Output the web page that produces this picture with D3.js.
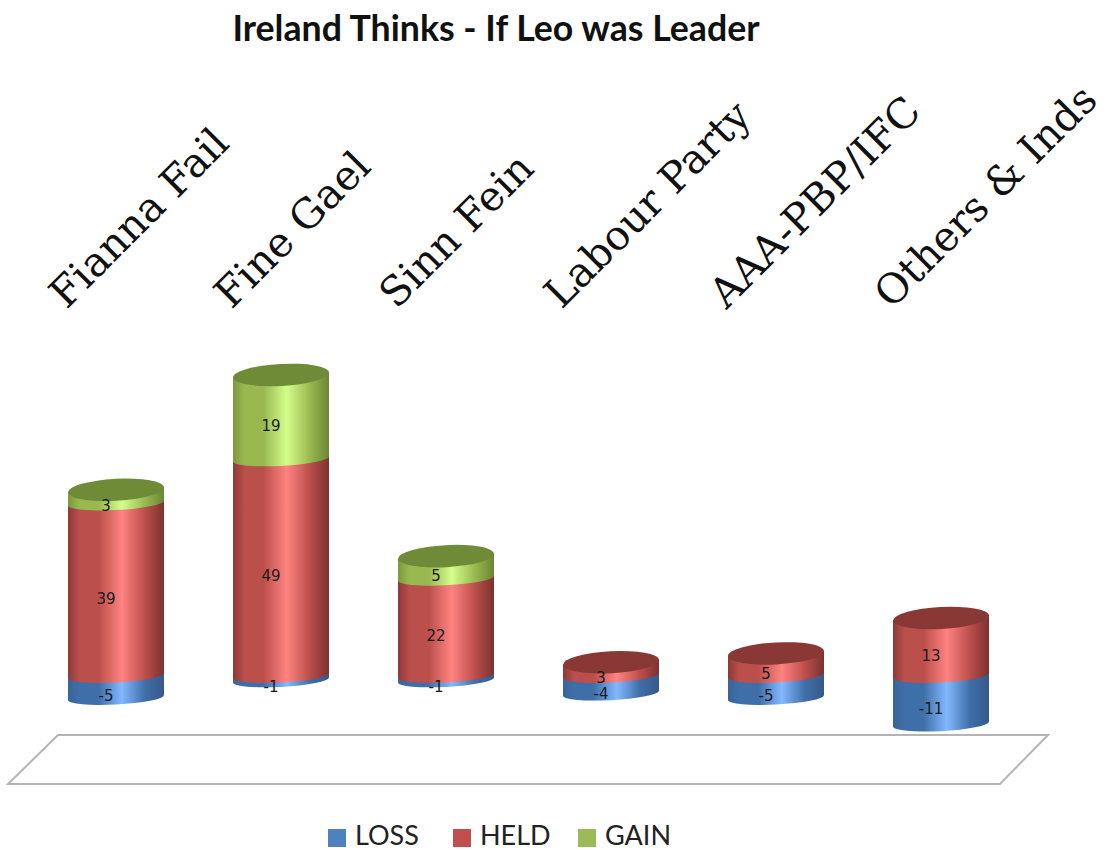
<!DOCTYPE html>
<html>
<head>
<meta charset="utf-8">
<script src="https://cdn.jsdelivr.net/npm/d3@7"></script>
<style>
  html, body { margin: 0; padding: 0; background: #fff; }
</style>
</head>
<body>
<div id="chart"></div>
<script>
var parties = ["Fianna Fail", "Fine Gael", "Sinn Fein", "Labour Party", "AAA-PBP/IFC", "Others & Inds"];
var seriesNames = ["LOSS", "HELD", "GAIN"];
var loss = [-5, -1, -1, -4, -5, -11];
var held = [39, 49, 22, 3, 5, 13];
var gain = [3, 19, 5, 0, 0, 0];

var svgWidth = 1107;
var svgHeight = 850;

var svg = d3.select("#chart")
  .append("svg")
  .attr("width", svgWidth)
  .attr("height", svgHeight)
  .style("display", "block");

var x = d3.scalePoint().domain(parties).range([116, 941]);
var y = d3.scaleLinear().domain([-15, 70]).range([741.8, 366.1]);

var colours = {
  LOSS: { edgeL: "#3a6499", mid: "#3f6fa8", hi: "#82b8ff", edgeR: "#37598a", cap: "#3a6499", key: "#4f81bd" },
  HELD: { edgeL: "#8c3a38", mid: "#bb4f4c", hi: "#ff8381", edgeR: "#7c3230", cap: "#8a3836", key: "#c0504d" },
  GAIN: { edgeL: "#7e983f", mid: "#99b950", hi: "#d4fd8c", edgeR: "#6b8634", cap: "#708b37", key: "#9bbb59" }
};

// side shading of each cylinder
var defs = svg.append("defs");
seriesNames.forEach(function(name) {
  var c = colours[name];
  var grad = defs.append("linearGradient").attr("id", "side-" + name);
  [[0, c.edgeL], [0.12, c.mid], [0.32, c.mid], [0.56, c.hi], [0.8, c.mid], [1, c.edgeR]].forEach(function(s) {
    grad.append("stop").attr("offset", s[0]).attr("stop-color", s[1]);
  });
});

// floor
var floor = [[58, 735], [1048, 735], [1000, 784], [8, 784]];
svg.append("path")
  .attr("d", d3.line()(floor) + "Z")
  .attr("fill", "#fff")
  .attr("stroke", "#b4b4b4")
  .attr("stroke-width", 2);

// stack the segments: loss hangs below zero, held and gain go up
var stacks = parties.map(function(p, i) {
  return [
    { party: p, name: "LOSS", value: loss[i], from: loss[i], to: 0 },
    { party: p, name: "HELD", value: held[i], from: 0, to: held[i] },
    { party: p, name: "GAIN", value: gain[i], from: held[i], to: held[i] + gain[i] }
  ].filter(function(d) { return d.value !== 0; });
});

var rx = 48;
var ryCap = 11;
var ryBase = 7;
var tilt = 2.5;

function sidePath(d) {
  var cx = x(d.party), top = y(d.to), bottom = y(d.from);
  return "M" + (cx - rx) + "," + (top + tilt)
    + "L" + (cx + rx) + "," + (top - tilt)
    + "L" + (cx + rx) + "," + (bottom - tilt)
    + "A" + rx + "," + ryBase + " -3 0 1 " + (cx - rx) + "," + (bottom + tilt)
    + "Z";
}

var columns = svg.selectAll("g.column")
  .data(stacks)
  .enter()
  .append("g")
  .attr("class", "column");

columns.selectAll("path.side")
  .data(function(d) { return d; })
  .enter()
  .append("path")
  .attr("class", "side")
  .attr("d", sidePath)
  .attr("fill", function(d) { return "url(#side-" + d.name + ")"; });

// top cap takes the colour of the highest segment
columns.each(function(d) {
  var top = d[d.length - 1];
  var cx = x(top.party), yTop = y(top.to);
  d3.select(this).append("path")
    .attr("d", "M" + (cx - rx) + "," + (yTop + tilt)
      + "A" + rx + "," + ryCap + " -3 0 1 " + (cx + rx) + "," + (yTop - tilt)
      + "A" + rx + "," + ryCap + " -3 0 1 " + (cx - rx) + "," + (yTop + tilt) + "Z")
    .attr("fill", colours[top.name].cap);
});

columns.selectAll("text")
  .data(function(d) { return d; })
  .enter()
  .append("text")
  .attr("x", function(d) { return x(d.party) - 10; })
  .attr("y", function(d) { return y((d.from + d.to) / 2) + 9; })
  .attr("dy", "0.35em")
  .attr("text-anchor", "middle")
  .attr("font-family", "'DejaVu Sans', sans-serif")
  .attr("font-size", "15px")
  .attr("fill", "#1a1a1a")
  .text(function(d) { return d.value; });

// party names along the top
var topAxis = d3.axisTop(x).tickSize(0).tickPadding(0);
var axisGroup = svg.append("g")
  .attr("transform", "translate(0, 310)")
  .call(topAxis);
axisGroup.select(".domain").remove();
axisGroup.selectAll("text")
  .attr("transform", "translate(-50, 0) rotate(-45)")
  .attr("text-anchor", "start")
  .attr("dy", 0)
  .attr("font-family", "'DejaVu Serif', serif")
  .attr("font-size", "41px")
  .attr("fill", "#111");

// title
svg.append("text")
  .attr("x", 496)
  .attr("y", 41)
  .attr("text-anchor", "middle")
  .attr("font-family", "Lato, sans-serif")
  .attr("font-weight", "bold")
  .attr("font-size", "35.7px")
  .attr("fill", "#111")
  .text("Ireland Thinks - If Leo was Leader");

// legend
var legendX = d3.scalePoint().domain(seriesNames).range([328, 578]);
var legend = svg.selectAll("g.legend")
  .data(seriesNames)
  .enter()
  .append("g")
  .attr("class", "legend")
  .attr("transform", function(d) { return "translate(" + legendX(d) + ", 829)"; });

legend.append("rect")
  .attr("width", 18)
  .attr("height", 18)
  .attr("fill", function(d) { return colours[d].key; });

legend.append("text")
  .attr("x", 27)
  .attr("y", 15.5)
  .attr("font-family", "Lato, sans-serif")
  .attr("font-size", "27px")
  .attr("fill", "#222")
  .text(function(d) { return d; });
</script>
</body>
</html>
